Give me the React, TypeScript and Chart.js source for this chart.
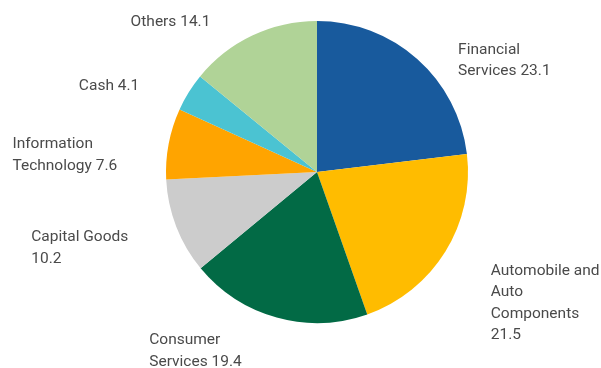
import React, { useEffect, useRef } from "react";
import { Chart, registerables } from "chart.js";

Chart.register(...registerables);

const categories = [
  "Financial Services",
  "Automobile and Auto Components",
  "Consumer Services",
  "Capital Goods",
  "Information Technology",
  "Cash",
  "Others",
];
const labelLines = [
  ["Financial", "Services"],
  ["Automobile and", "Auto", "Components"],
  ["Consumer", "Services"],
  ["Capital Goods"],
  ["Information", "Technology"],
  ["Cash"],
  ["Others"],
];
const valueOnOwnLine = [false, true, false, true, false, false, false];
const values = [23.1, 21.5, 19.4, 10.2, 7.6, 4.1, 14.1];
const colors = ["#185A9D", "#FFBC00", "#026A45", "#CCCCCC", "#FFA400", "#4BC3D2", "#B0D397"];
const labelNudges = [
  [21, 40],
  [20, 13],
  [-27, -16],
  [-20, 3],
  [-22, 21],
  [-24, 15],
  [-29, 23],
];

const FONT = "400 15.5px Roboto";
const LINE_H = 21.5;
const GAP = 30;

const outsideLabels = {
  id: "outsideLabels",
  afterDraw(chart: any) {
    const ctx = chart.ctx;
    const meta = chart.getDatasetMeta(0);
    ctx.save();
    ctx.font = FONT;
    ctx.fillStyle = "#4a4a4a";
    ctx.textAlign = "left";
    ctx.textBaseline = "middle";
    meta.data.forEach((arc: any, i: number) => {
      const { x, y, startAngle, endAngle, outerRadius } = arc.getProps(
        ["x", "y", "startAngle", "endAngle", "outerRadius"],
        true
      );
      const mid = (startAngle + endAngle) / 2;
      const dx = Math.cos(mid);
      const dy = Math.sin(mid);
      const R = outerRadius + GAP;
      const px = x + dx * R;
      const py = y + dy * R;
      const lines = labelLines[i].slice();
      const v = String(values[i]);
      if (valueOnOwnLine[i]) lines.push(v);
      else lines[lines.length - 1] = lines[lines.length - 1] + " " + v;
      const w = Math.max(...lines.map((l) => ctx.measureText(l).width));
      const h = lines.length * LINE_H;
      let left = dx >= 0 ? px : px - w;
      let top = py - h / 2 + (dy * h) / 2;
      left += labelNudges[i][0];
      top += labelNudges[i][1];
      lines.forEach((l, j) => {
        ctx.fillText(l, left, top + LINE_H / 2 + j * LINE_H);
      });
    });
    ctx.restore();
  },
};

export default function App() {
  const ref = useRef<HTMLCanvasElement>(null);
  useEffect(() => {
    if (!ref.current) return;
    const chart = new Chart(ref.current, {
      type: "pie",
      data: {
        labels: categories,
        datasets: [
          {
            data: values,
            backgroundColor: colors,
            borderWidth: 0,
            hoverBorderWidth: 0,
            hoverOffset: 0,
          },
        ],
      },
      options: {
        responsive: false,
        animation: false,
        events: [],
        layout: { padding: { left: 166, right: 133, top: 21, bottom: 45 } },
        plugins: {
          legend: { display: false },
          tooltip: { enabled: false },
        },
      },
      plugins: [outsideLabels],
    });
    return () => chart.destroy();
  }, []);
  return (
    <div style={{ position: "absolute", left: 0, top: 0, width: 601, height: 368, background: "#fff" }}>
      <canvas ref={ref} width={601} height={368} style={{ display: "block" }} />
    </div>
  );
}
